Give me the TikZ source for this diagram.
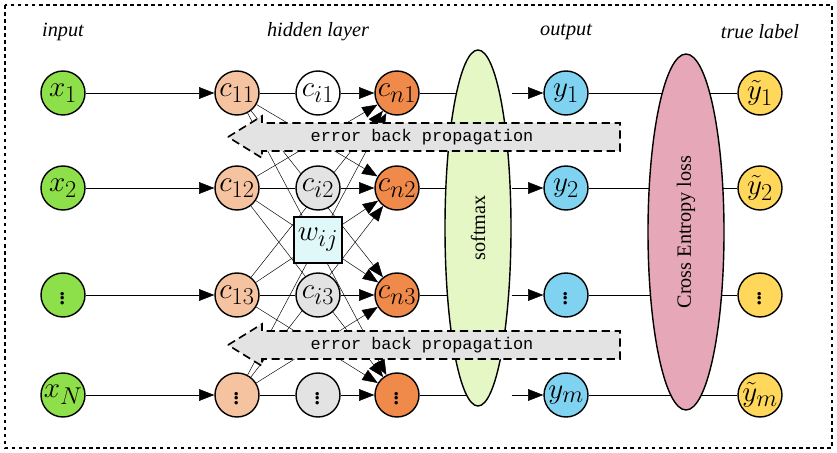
\documentclass[tikz,border=0pt]{standalone}
\usepackage{fontspec}
\setmainfont{Liberation Serif}
\newfontfamily\mono{Liberation Mono}
\usetikzlibrary{shapes.geometric,arrows.meta}
\pgfdeclarelayer{edges}\pgfsetlayers{edges,main}
\definecolor{cx}{HTML}{8EE04A}\definecolor{cone}{HTML}{F5C3A0}
\definecolor{cnn}{HTML}{F08A4B}\definecolor{cy}{HTML}{7FD3F0}
\definecolor{ct}{HTML}{FFD75A}\definecolor{csm}{HTML}{E4F7C4}
\definecolor{cce}{HTML}{E6A8B8}\definecolor{cw}{HTML}{E0F8F8}
\definecolor{cg}{HTML}{E3E3E3}
\begin{document}
\begin{tikzpicture}[x=0.03cm,y=-0.03cm,line width=1.2pt,
 neu/.style={circle,draw,line width=1.2pt,minimum size=44*0.03cm,inner sep=0pt,font=\Huge\itshape},
 hd/.style={font=\LARGE\itshape},
 arr/.style={-{Triangle[length=13pt,width=10pt]}},
 ebp/.style={draw,line width=1.4pt,dash pattern=on 7pt off 4pt,fill=cg}]
\useasboundingbox (0,0) rectangle (837,453);
\draw[dashed] (5,5) rectangle (832,448);
\node[hd] at (63,32) {input};
\node[hd] at (318,32) {hidden layer};
\node[hd] at (566,32) {output};
\node[hd] at (760,32) {true label};
\node[ellipse,draw,fill=csm,minimum width=66*0.03cm,minimum height=356*0.03cm] (sm) at (478,228) {};
\node[rotate=90,font=\LARGE] at (478,228) {softmax};
\node[ellipse,draw,fill=cce,minimum width=76*0.03cm,minimum height=356*0.03cm] (ce) at (686,232) {};
\node[rotate=90,font=\LARGE] at (686,232) {Cross Entropy loss};
\foreach \r/\yy/\xl/\ol/\nl/\yl/\tl in {1/93/$x_1$/$c_{11}$/$c_{n1}$/$y_1$/$\tilde y_1$,2/188/$x_2$/$c_{12}$/$c_{n2}$/$y_2$/$\tilde y_2$,3/295/$\vdots$/$c_{13}$/$c_{n3}$/$\vdots$/$\vdots$,4/395/$x_N$/$\vdots$/$\vdots$/$y_m$/$\tilde y_m$}{
 \node[neu,fill=cx] (x\r) at (63,\yy) {\xl};
 \node[neu,fill=cone] (a\r) at (237,\yy) {\ol};
 \node[neu,fill=cnn] (n\r) at (397,\yy) {\nl};
 \node[neu,fill=cy] (y\r) at (566,\yy) {\yl};
 \node[neu,fill=ct] (t\r) at (760,\yy) {\tl};
 \coordinate (s\r) at (478,\yy);
 \coordinate (e\r) at (686,\yy);
}
\node[neu,fill=white] (i1) at (318,93) {$c_{i1}$};
\node[neu,fill=cg] (i2) at (318,188) {$c_{i2}$};
\node[neu,fill=cg] (i3) at (318,295) {$c_{i3}$};
\node[neu,fill=cg] (i4) at (318,395) {$\vdots$};
\node[draw,fill=cw,minimum size=46*0.03cm,font=\Huge\itshape] (w) at (318,240) {$w_{ij}$};
\begin{pgfonlayer}{edges}
\foreach \r in {1,...,4}{
 \draw[arr] (x\r) -- (a\r);
 \draw (a\r) -- (i\r);
 \draw[arr] (i\r) -- (n\r);
 \draw (n\r) -- (s\r);
 \draw (y\r) -- (e\r);
 \draw (e\r) -- (t\r);
 \foreach \k in {1,...,4}{
  \ifnum\r=\k\else \draw[arr] (a\r) -- (n\k);\fi
 }
}
\end{pgfonlayer}
\foreach \r in {1,...,4}{\draw[arr] (sm.east |- y\r) -- (y\r);}
\foreach \yy in {137,345}{
 \draw[ebp] (228,\yy) -- (262,\yy-21) -- (262,\yy-14) -- (620,\yy-14) -- (620,\yy+14) -- (262,\yy+14) -- (262,\yy+21) -- cycle;
 \node[font=\mono\Large] at (422,\yy) {error back propagation};
}
\end{tikzpicture}
\end{document}
